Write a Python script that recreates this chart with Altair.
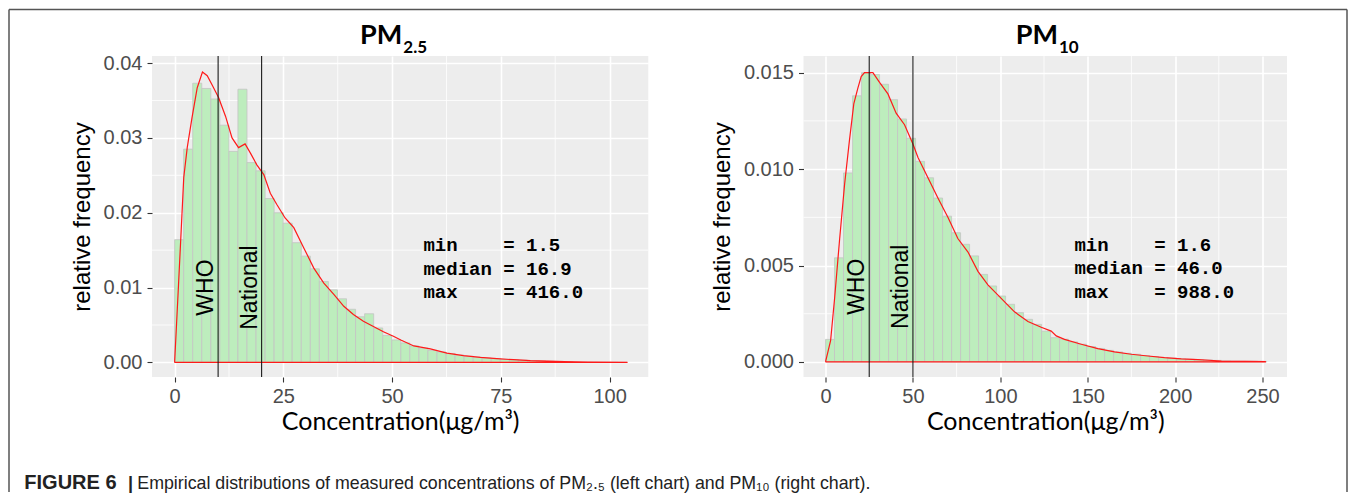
import altair as alt
import pandas as pd

# ---------------- data ----------------
# PM2.5 histogram (relative frequency per bin, bins start at 0)
pm25_binwidth = 2.08
pm25_freq = [0.0164, 0.0285, 0.0373, 0.0366, 0.0352, 0.0317, 0.0282, 0.0365, 0.0267, 0.0256,
             0.0219, 0.0200, 0.0186, 0.0160, 0.0142, 0.0125, 0.0108, 0.0097, 0.0085, 0.0071,
             0.0061, 0.0065, 0.0046, 0.0036, 0.0030, 0.0026, 0.0022, 0.0019, 0.0016, 0.0014,
             0.0012, 0.00098, 0.00082, 0.00070, 0.00059, 0.00050, 0.00042, 0.00036, 0.00030, 0.00025,
             0.00021, 0.00018, 0.00015, 0.00012, 0.00005, 0.00004, 0.00004, 0.00003, 0.00003, 0.00002]
# PM2.5 density outline
pm25_dens_x = [0, 0.9, 2.1, 2.9, 4.0, 5.2, 6.4, 7.5, 8.6, 10.1, 11.7, 13.2, 14.7, 16.2, 17.4, 18.9,
               20.5, 22.0, 23.5, 25.4, 27.4, 29.7, 32.0, 34.3, 36.6, 38.9, 41.1, 43.4, 45.7, 48.0,
               50.3, 52.0, 55.0, 58.8, 62.6, 66.4, 70.3, 74.1, 77.9, 81.8, 85.6, 89.4, 95.0, 104.0,
               104.0, 0]
pm25_dens_y = [0, 0.0104, 0.0247, 0.0287, 0.0327, 0.0367, 0.0388, 0.0383, 0.0371, 0.0354, 0.0329,
               0.0300, 0.0287, 0.0292, 0.0280, 0.0264, 0.0251, 0.0226, 0.0211, 0.0193, 0.0180,
               0.0153, 0.0126, 0.0106, 0.0091, 0.0075, 0.0064, 0.0055, 0.0048, 0.0041, 0.0035,
               0.0030, 0.0022, 0.0018, 0.00125, 0.0009, 0.00067, 0.0005, 0.00036, 0.00023, 0.00017,
               0.00012, 0.00005, 0.00002, 0, 0]
pm25_limits = [10, 20]
pm25_stats = ["1.5", "16.9", "416.0"]

# PM10 histogram
pm10_binwidth = 5.15
pm10_freq = [0.00117, 0.0054, 0.0098, 0.0138, 0.0150, 0.0149, 0.0144, 0.0136, 0.0126, 0.0116,
             0.0104, 0.00955, 0.0085, 0.00756, 0.0067, 0.0061, 0.0055, 0.00454, 0.00394, 0.00342,
             0.00299, 0.00256, 0.00221, 0.00195, 0.0016, 0.00126, 0.00118, 0.00104, 0.00092, 0.0008,
             0.0007, 0.0006, 0.00052, 0.00045, 0.0004, 0.00033, 0.00028, 0.00023, 0.0002, 0.00017,
             0.00014, 0.00012, 0.0001, 0.00008, 0.00006, 0.00005, 0.00004, 0.00004, 0.00003]
pm10_dens_x = [0, 2.9, 5.2, 8.0, 10.9, 13.7, 16.2, 18.5, 20.4, 22.3, 27.1, 30.9, 35.7, 40.4, 45.2,
               50.0, 52.9, 58.6, 64.3, 70.0, 75.7, 81.5, 87.2, 92.9, 100.5, 108.1, 115.8, 123.4,
               129.1, 132.0, 136.7, 146.3, 155.8, 165.3, 174.9, 184.4, 193.9, 203.5, 213.0, 226.4,
               240.0, 251.6, 251.6, 0]
pm10_dens_y = [0, 0.0011, 0.0033, 0.0063, 0.0092, 0.0115, 0.0134, 0.0142, 0.0148, 0.0150, 0.0150,
               0.0145, 0.0139, 0.0129, 0.0123, 0.0113, 0.0106, 0.00955, 0.0085, 0.0075, 0.0064,
               0.0057, 0.0047, 0.0040, 0.0033, 0.0026, 0.0021, 0.0018, 0.0016, 0.00135, 0.00117,
               0.00092, 0.00069, 0.00052, 0.0004, 0.00031, 0.00022, 0.00016, 0.00012, 0.00005,
               0.00003, 0.00002, 0, 0]
pm10_limits = [25, 50]
pm10_stats = ["1.6", "46.0", "988.0"]

limit_labels = ["WHO", "National"]
NB = "\u00a0"
stat_names = ["min" + NB * 3, "median", "max" + NB * 3]

# axes / grid
pm25_xticks = [0, 25, 50, 75, 100]
pm25_xminor = [12.5, 37.5, 62.5, 87.5]
pm25_yticks = [0, 0.01, 0.02, 0.03, 0.04]
pm25_yminor = [0.005, 0.015, 0.025, 0.035]
pm10_xticks = [0, 50, 100, 150, 200, 250]
pm10_xminor = [25, 75, 125, 175, 225]
pm10_yticks = [0, 0.005, 0.010, 0.015]
pm10_yminor = [0.0025, 0.0075, 0.0125]

caption_bold = "FIGURE 6"
caption_bar = "|"
caption_rest = "Empirical distributions of measured concentrations of PM\u2082.\u2085 (left chart) and PM\u2081\u2080 (right chart)."

PANEL_BG = "#EDEDED"
BAR_FILL = "#BDEDBD"
BAR_LINE = "#C4C4C4"


def panel(freq, binw, dx, dy, limits, lab_y, stats, stat_x, stat_y,
          xdom, ydom, xticks, xminor, yticks, yminor, yfmt, W, H,
          t_main, t_sub, t_split, decor=False):
    xaxis = alt.Axis(values=xticks, format="d", grid=True, gridColor="white", gridWidth=1.6,
                     domain=False, tickColor="#333333", tickSize=5, tickWidth=1.1,
                     labelFont="Liberation Sans", labelFontSize=20, labelColor="#4D4D4D",
                     labelPadding=4, labelFlush=False, labelOverlap=False,
                     title="Concentration(\u03bcg/m\u00b3)", titleFont="Lato", titleFontSize=25,
                     titleFontWeight="normal", titleColor="black", titlePadding=3)
    yaxis = alt.Axis(values=yticks, format=yfmt, grid=True, gridColor="white", gridWidth=1.6,
                     domain=False, tickColor="#333333", tickSize=5, tickWidth=1.1,
                     labelFont="Liberation Sans", labelFontSize=20, labelColor="#4D4D4D",
                     labelPadding=5, labelFlush=False, labelOverlap=False,
                     title="relative frequency", titleFont="Liberation Sans", titleFontSize=24,
                     titleFontWeight="normal", titleColor="black", titlePadding=9)
    xs = alt.Scale(domain=xdom, nice=False, zero=False)
    ys = alt.Scale(domain=ydom, nice=False, zero=False)
    X = alt.X("x:Q", scale=xs, axis=xaxis)
    Y = alt.Y("y:Q", scale=ys, axis=yaxis)

    bars = pd.DataFrame({
        "x": [i * binw for i in range(len(freq))],
        "x2": [(i + 1) * binw for i in range(len(freq))],
        "y": freq,
        "y2": [0] * len(freq),
    })
    dens = pd.DataFrame({"x": dx, "y": dy, "i": list(range(len(dx)))})
    lim = pd.DataFrame({"x": limits, "y": [lab_y] * len(limits), "t": limit_labels})
    st = pd.DataFrame({"x": [stat_x], "y": [stat_y],
                       "t": ["\n".join(f"{n}{NB}={NB}{v}" for n, v in zip(stat_names, stats))]})

    layers = [
        alt.Chart(pd.DataFrame({"x": xminor})).mark_rule(color="white", strokeWidth=0.8).encode(x=X),
        alt.Chart(pd.DataFrame({"y": yminor})).mark_rule(color="white", strokeWidth=0.8).encode(y=Y),
        alt.Chart(bars).mark_rect(fill=BAR_FILL, stroke=BAR_LINE, strokeWidth=0.8).encode(
            x=X, x2="x2:Q", y=Y, y2="y2:Q"),
        alt.Chart(dens).mark_line(color="#FF1A1A", strokeWidth=1.2).encode(x=X, y=Y, order="i:Q"),
        alt.Chart(lim).mark_rule(color="#1A1A1A", strokeWidth=1.1).encode(x=X),
        alt.Chart(lim).mark_text(angle=270, align="center", baseline="bottom",
                                 font="Liberation Sans", fontSize=23, color="black").encode(
            x=X, y=Y, text="t:N"),
        alt.Chart(st).mark_text(align="left", baseline="alphabetic", font="Liberation Mono",
                                fontWeight="bold", fontSize=19, lineBreak="\n", lineHeight=23.3,
                                color="black").encode(x=X, y=Y, text="t:N"),
        alt.Chart(pd.DataFrame({"t": [t_main]})).mark_text(
            align="right", baseline="alphabetic", font="Lato", fontWeight="bold", fontSize=27,
            color="black").encode(x=alt.value(t_split), y=alt.value(-12), text="t:N"),
        alt.Chart(pd.DataFrame({"t": [t_sub]})).mark_text(
            align="left", baseline="alphabetic", font="Lato", fontWeight="bold", fontSize=17,
            color="black").encode(x=alt.value(t_split + 1), y=alt.value(-3), text="t:N"),
    ]
    if decor:
        fr = "#555555"
        layers += [
            alt.Chart(pd.DataFrame({"t": [0]})).mark_rule(color=fr, strokeWidth=1.5).encode(
                x=alt.value(-143.0), x2=alt.value(1195.0), y=alt.value(-46.5)),
            alt.Chart(pd.DataFrame({"t": [0]})).mark_rule(color=fr, strokeWidth=1.5).encode(
                x=alt.value(-143.0), y=alt.value(-46.5), y2=alt.value(436)),
            alt.Chart(pd.DataFrame({"t": [0]})).mark_rule(color=fr, strokeWidth=1.5).encode(
                x=alt.value(1195.0), y=alt.value(-46.5), y2=alt.value(436)),
            alt.Chart(pd.DataFrame({"t": [caption_bold]})).mark_text(
                align="left", baseline="alphabetic", font="Liberation Sans", fontWeight="bold",
                fontSize=20, color="#222222").encode(x=alt.value(-127.7), y=alt.value(433), text="t:N"),
            alt.Chart(pd.DataFrame({"t": [caption_bar]})).mark_text(
                align="center", baseline="alphabetic", font="Liberation Sans", fontWeight="bold",
                fontSize=18, color="#222222").encode(x=alt.value(-21.5), y=alt.value(433), text="t:N"),
            alt.Chart(pd.DataFrame({"t": [caption_rest]})).mark_text(
                align="left", baseline="alphabetic", font="Liberation Sans", fontSize=17.8,
                color="#222222").encode(x=alt.value(-14.7), y=alt.value(433), text="t:N"),
        ]
    return alt.layer(*layers).properties(width=W, height=H)


left = panel(pm25_freq, pm25_binwidth, pm25_dens_x, pm25_dens_y, pm25_limits, 0.01,
             pm25_stats, 57.2, 0.01485,
             [-5.2, 108.9], [-0.00195, 0.04094], pm25_xticks, pm25_xminor,
             pm25_yticks, pm25_yminor, ".2f", 496.3, 321, "PM", "2.5", 250.3, decor=True)
right = panel(pm10_freq, pm10_binwidth, pm10_dens_x, pm10_dens_y, pm10_limits, 0.0039,
              pm10_stats, 142.4, 0.00575,
              [-12.6, 264.0], [-0.00078, 0.015865], pm10_xticks, pm10_xminor,
              pm10_yticks, pm10_yminor, ".3f", 483.5, 321, "PM", "10", 254.5)

chart = alt.hconcat(left, right, spacing=154.5, bounds="flush").properties(
    padding=0, background="white"
).configure_view(fill=PANEL_BG, strokeWidth=0)

chart.save("out.html", embed_options={"renderer": "svg", "actions": False})
